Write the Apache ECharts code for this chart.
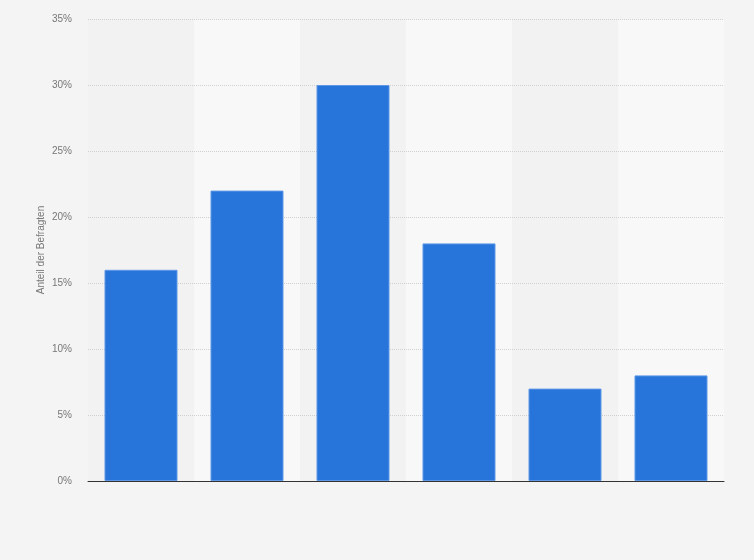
<!DOCTYPE html>
<html>
<head>
<meta charset="utf-8">
<script src="https://cdn.jsdelivr.net/npm/echarts@6/dist/echarts.min.js"></script>
<style>
  html, body { margin: 0; padding: 0; background: #f4f4f4; }
  #chart { width: 754px; height: 560px; }
</style>
</head>
<body>
<div id="chart"></div>
<script>
// Kategorien (keine Beschriftung sichtbar)
var categories = ['1', '2', '3', '4', '5', '6'];
// Anteil der Befragten in Prozent
var shares = [16, 22, 30, 18, 7, 8];
// y-Achse
var yMin = 0;
var yMax = 35;
var yStep = 5;

(function () {
    let myChart = echarts.init(document.getElementById('chart'))
    let option = {
        backgroundColor: '#f4f4f4',
        animation: false,
        grid: {
            left: 88,
            right: 30,
            top: 19,
            bottom: 79
        },
        xAxis: {
            type: 'category',
            data: categories,
            z: 0,
            axisLabel: { show: false },
            axisTick: { show: false },
            axisLine: {
                lineStyle: { color: '#333333', width: 1 }
            },
            // abwechselnde Hintergrundstreifen
            splitArea: {
                show: true,
                areaStyle: { color: ['#f2f2f2', '#f8f8f8'] }
            }
        },
        yAxis: {
            type: 'value',
            min: yMin,
            max: yMax,
            interval: yStep,
            z: 1,
            name: 'Anteil der Befragten',
            nameLocation: 'middle',
            nameGap: 42,
            nameMoveOverlap: false,
            nameTextStyle: {
                color: '#777777',
                fontSize: 10,
                fontFamily: 'Liberation Sans'
            },
            axisLine: { show: false },
            axisTick: { show: false },
            axisLabel: {
                color: '#777777',
                fontSize: 10,
                fontFamily: 'Liberation Sans',
                margin: 16,
                formatter: '{value}%'
            },
            splitLine: {
                showMinLine: false,
                lineStyle: { color: '#d0d0d0', type: 'dotted' }
            }
        },
        series: [{
            type: 'bar',
            data: shares,
            barWidth: 73,
            z: 3,
            itemStyle: {
                color: '#2775db',
                borderColor: '#5e97e6',
                borderWidth: 1
            }
        }]
    }
    myChart.setOption(option)
})();
</script>
</body>
</html>
